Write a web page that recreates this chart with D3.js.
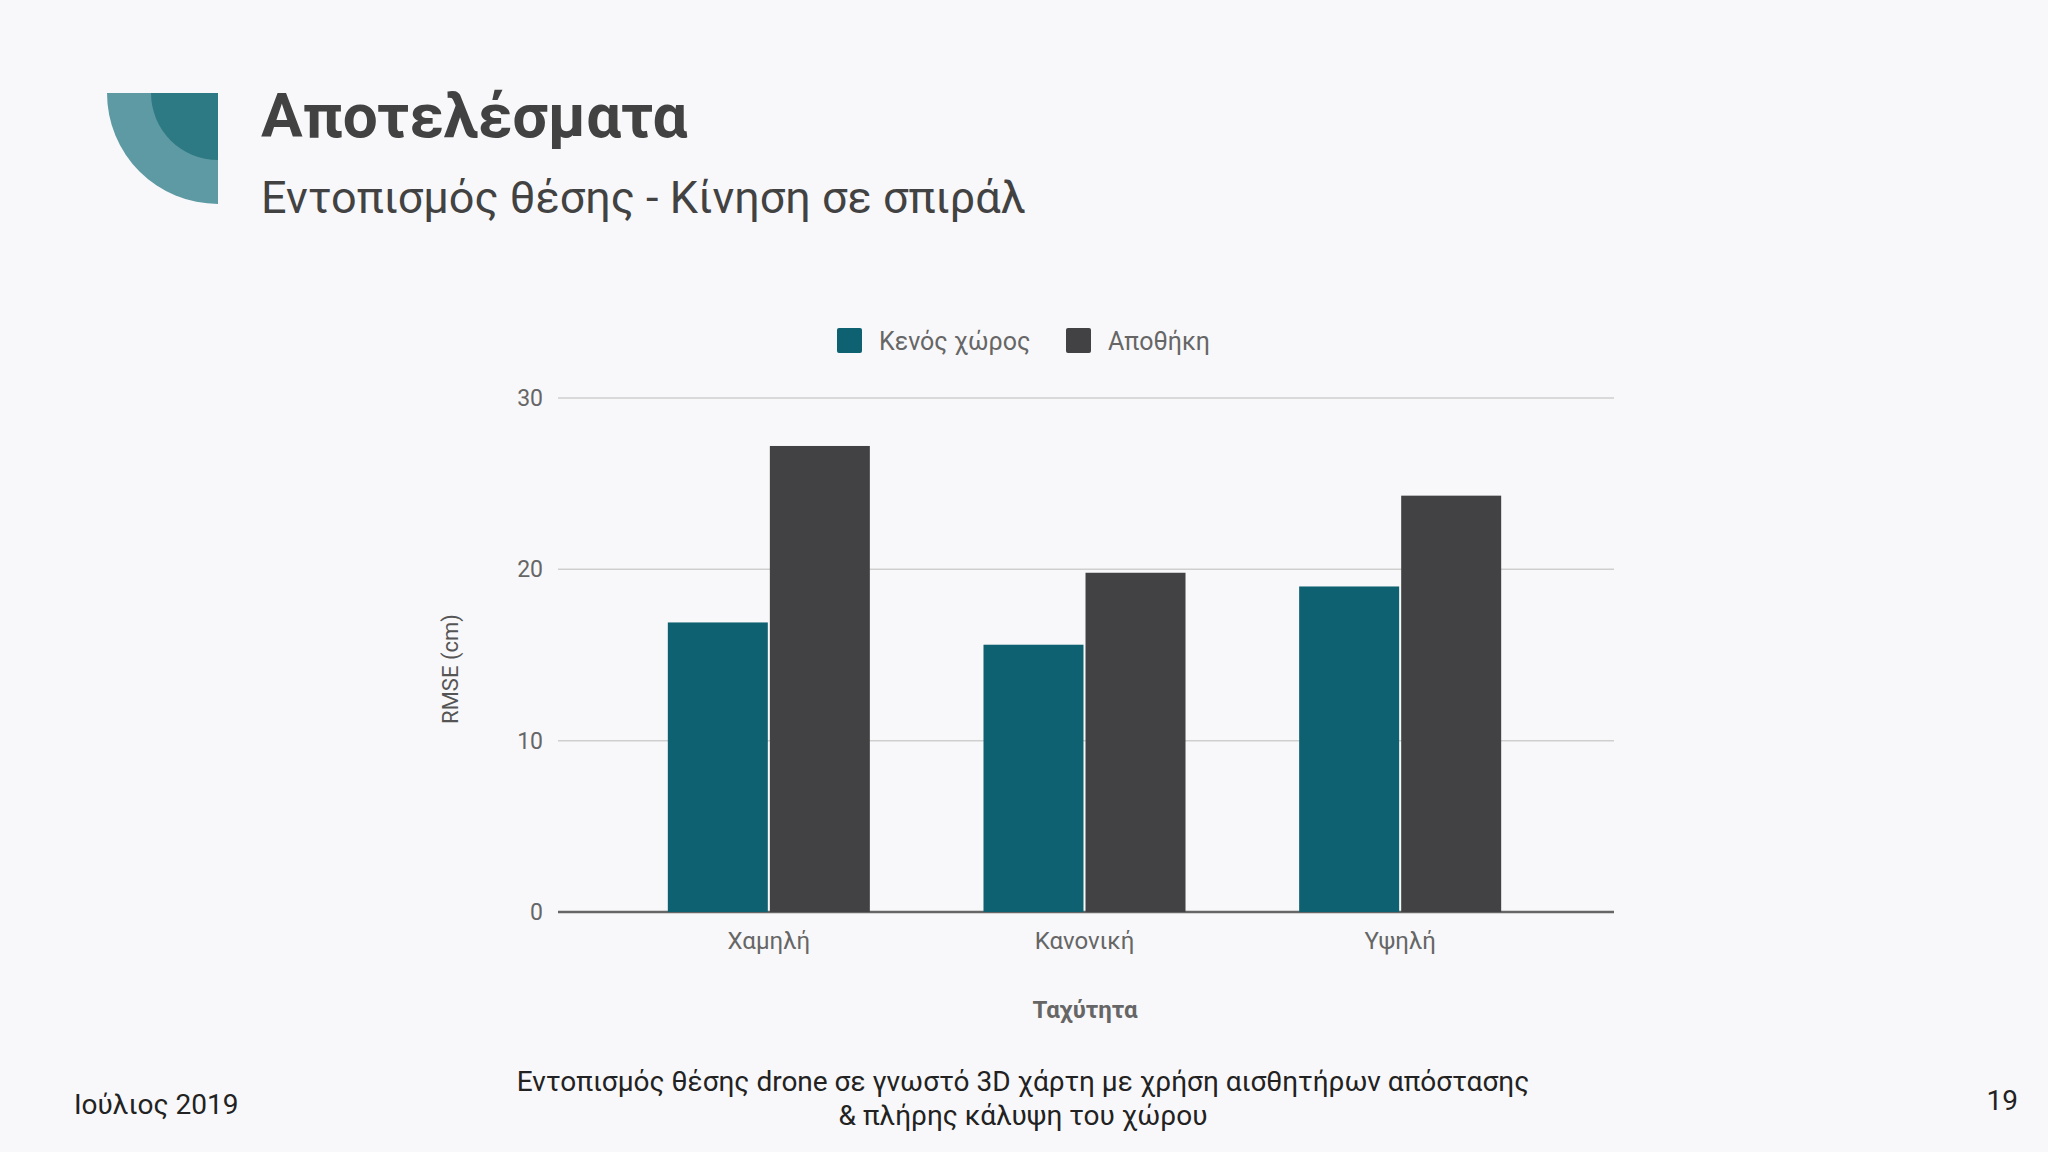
<!DOCTYPE html><html><head><meta charset="utf-8">
<script src="https://cdn.jsdelivr.net/npm/d3@7"></script>
<style>body{margin:0;background:#f8f8fa}svg{display:block;font-family:Roboto,sans-serif}</style></head><body>
<svg id="c" width="2048" height="1152"></svg>
<script>
const categories=["Χαμηλή","Κανονική","Υψηλή"];
const seriesNames=["Κενός χώρος","Αποθήκη"];
const emptySpace=[16.9,15.6,19.0];
const warehouse=[27.2,19.8,24.3];
const yTicks=[0,10,20,30];
const colors=["#0e6170","#424143"];
const svg=d3.select("#c");
svg.append("rect").attr("width",2048).attr("height",1152).attr("fill","#f8f8fa");
const cx=218,cy=93;
svg.append("path").attr("d",d3.arc()({innerRadius:0,outerRadius:111,startAngle:Math.PI,endAngle:1.5*Math.PI})).attr("transform",`translate(${cx},${cy})`).attr("fill","#5e9aa3");
svg.append("path").attr("d",d3.arc()({innerRadius:0,outerRadius:67,startAngle:Math.PI,endAngle:1.5*Math.PI})).attr("transform",`translate(${cx},${cy})`).attr("fill","#2e7a84");
svg.append("text").attr("x",261).attr("y",137).attr("font-size",62).attr("font-weight","bold").attr("fill","#424242").text("Αποτελέσματα");
svg.append("text").attr("x",261).attr("y",213).attr("font-size",45).attr("fill","#424242").text("Εντοπισμός θέσης - Κίνηση σε σπιράλ");
const x0=d3.scaleBand().domain(categories).range([611,1558]).paddingInner(0.36).paddingOuter(0.18);
const x1=d3.scaleBand().domain(seriesNames).range([0,x0.bandwidth()]).paddingInner(0.02);
const y=d3.scaleLinear().domain([0,30]).range([912,398]);
const g=svg.append("g");
g.selectAll("line.grid").data(yTicks).join("line").attr("x1",558).attr("x2",1614).attr("y1",d=>y(d)).attr("y2",d=>y(d)).attr("stroke",d=>d?"#cfcfcf":"#666").attr("stroke-width",d=>d?1.5:2.5);
g.selectAll("text.yt").data(yTicks).join("text").attr("x",543).attr("y",d=>y(d)+8).attr("text-anchor","end").attr("font-size",23).attr("fill","#666").text(d=>d);
const data=categories.map((c,i)=>[emptySpace[i],warehouse[i]]);
categories.forEach((c,i)=>{
  seriesNames.forEach((s,j)=>{
    g.append("rect").attr("x",x0(c)+x1(s)).attr("width",x1.bandwidth()).attr("y",y(data[i][j])).attr("height",y(0)-y(data[i][j])).attr("fill",colors[j]);
  });
  g.append("text").attr("x",x0(c)+x0.bandwidth()/2).attr("y",949).attr("text-anchor","middle").attr("font-size",24).attr("fill","#666").text(c);
});
svg.append("text").attr("x",1085).attr("y",1018).attr("text-anchor","middle").attr("font-size",24).attr("font-weight","bold").attr("fill","#666").text("Ταχύτητα");
svg.append("text").attr("transform","translate(458,669) rotate(-90)").attr("text-anchor","middle").attr("font-size",22).attr("fill","#555").text("RMSE (cm)");
const lx=[837,1066];
seriesNames.forEach((s,j)=>{
  svg.append("rect").attr("x",lx[j]).attr("y",328).attr("width",25).attr("height",25).attr("rx",2).attr("fill",colors[j]);
  svg.append("text").attr("x",lx[j]+42).attr("y",350).attr("font-size",25).attr("fill","#666").text(s);
});
svg.append("text").attr("x",74).attr("y",1114).attr("font-size",28).attr("fill","#222").text("Ιούλιος 2019");
svg.append("text").attr("x",1023).attr("y",1091).attr("text-anchor","middle").attr("font-size",28).attr("fill","#222").text("Εντοπισμός θέσης drone σε γνωστό 3D χάρτη με χρήση αισθητήρων απόστασης");
svg.append("text").attr("x",1023).attr("y",1125).attr("text-anchor","middle").attr("font-size",28).attr("fill","#222").text("& πλήρης κάλυψη του χώρου");
svg.append("text").attr("x",2018).attr("y",1110).attr("text-anchor","end").attr("font-size",28).attr("fill","#222").text("19");
</script></body></html>
